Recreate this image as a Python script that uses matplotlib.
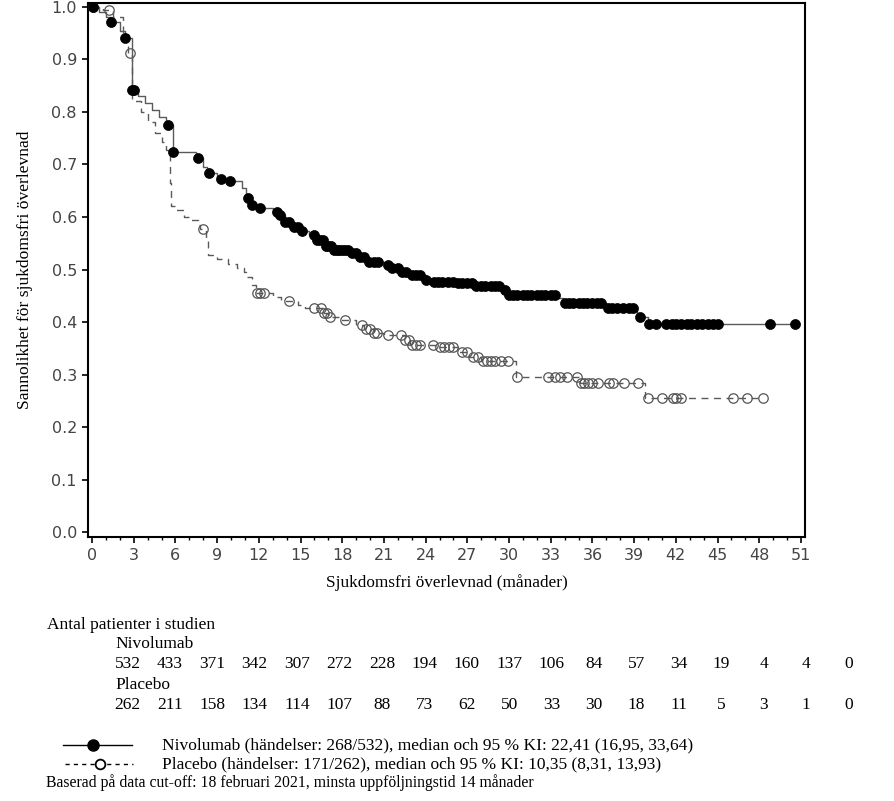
import numpy as np
import matplotlib
matplotlib.use("Agg")
import matplotlib.pyplot as plt
from matplotlib.lines import Line2D

# ---------------- data ----------------
niv_step_t = [0.0, 0.5, 1.0, 1.4, 2.0, 2.4, 2.85, 3.3, 3.8, 4.3, 4.8, 5.3, 5.8, 7.5, 8.0, 8.3,
              9.0, 9.8, 10.8, 11.1, 11.4, 12.0, 13.0, 13.5, 13.9, 14.5, 15.0, 15.6, 16.2, 16.8,
              17.3, 18.5, 19.3, 19.8, 21.0, 21.6, 22.2, 23.0, 24.0, 24.6, 26.3, 27.5, 29.4,
              29.8, 33.6, 33.9, 37.0, 39.2, 40.0]
niv_step_s = [1.0, 0.99, 0.98, 0.972, 0.955, 0.94, 0.842, 0.83, 0.817, 0.803, 0.79, 0.776,
              0.724, 0.712, 0.695, 0.683, 0.673, 0.668, 0.655, 0.636, 0.623, 0.617, 0.61, 0.604,
              0.59, 0.58, 0.573, 0.565, 0.556, 0.545, 0.537, 0.532, 0.524, 0.514, 0.509, 0.502,
              0.495, 0.49, 0.48, 0.476, 0.474, 0.468, 0.461, 0.451, 0.446, 0.436, 0.427, 0.41,
              0.396]
niv_censor_t = [0.05, 1.4, 2.4, 2.9, 3.0, 5.5, 5.85, 7.6, 8.4, 9.3, 9.9, 11.2, 11.5, 12.1,
                13.3, 13.5, 13.9, 14.2, 14.5, 14.8, 15.1, 16.0, 16.2, 16.4, 16.6, 16.8, 17.0,
                17.2, 17.4, 17.6, 17.8, 18.0, 18.2, 18.4, 18.7, 19.0, 19.3, 19.6, 19.9, 20.3,
                20.6, 21.3, 21.6, 22.0, 22.3, 22.6, 23.0, 23.3, 23.6, 24.0, 24.6, 24.9, 25.2,
                25.6, 26.0, 26.3, 26.6, 27.0, 27.3, 27.6, 28.0, 28.3, 28.7, 29.0, 29.3, 29.7,
                30.0, 30.3, 30.6, 31.0, 31.3, 31.6, 32.0, 32.3, 32.6, 33.0, 33.3, 34.0, 34.3,
                34.6, 35.0, 35.3, 35.6, 36.0, 36.3, 36.6, 37.1, 37.4, 37.8, 38.2, 38.6, 38.9,
                39.4, 40.1, 40.6, 41.3, 41.7, 42.0, 42.4, 42.8, 43.1, 43.5, 43.9, 44.3, 44.7,
                45.0, 48.8, 50.6]

pla_step_t = [0.0, 0.8, 1.5, 2.2, 2.6, 2.85, 3.5, 4.0, 4.5, 5.0, 5.3, 5.6, 5.7, 6.0, 6.6,
              7.0, 7.6, 7.8, 8.2, 8.35, 9.0, 9.8, 10.4, 10.9, 11.1, 11.5, 11.8, 13.0, 13.6,
              14.8, 15.3, 16.7, 17.0, 17.8, 19.0, 19.6, 20.3, 21.0, 22.5, 22.9, 24.7, 26.3,
              27.1, 28.0, 30.5, 35.1, 39.8]
pla_step_s = [1.0, 0.995, 0.98, 0.95, 0.913, 0.82, 0.80, 0.78, 0.76, 0.742, 0.728, 0.665,
              0.62, 0.613, 0.6, 0.594, 0.585, 0.577, 0.56, 0.528, 0.52, 0.51, 0.502, 0.495,
              0.486, 0.47, 0.455, 0.448, 0.44, 0.432, 0.427, 0.418, 0.41, 0.404, 0.395, 0.387,
              0.38, 0.375, 0.366, 0.357, 0.352, 0.343, 0.333, 0.325, 0.295, 0.284, 0.256]
pla_censor_t = [0.1, 1.2, 2.7, 7.95, 11.9, 12.1, 12.4, 14.2, 16.0, 16.5, 16.7, 16.9, 17.1,
                18.2, 19.4, 19.7, 20.0, 20.3, 20.5, 21.3, 22.2, 22.5, 22.8, 23.0, 23.3, 23.6,
                24.5, 25.0, 25.3, 25.7, 26.0, 26.6, 27.0, 27.4, 27.8, 28.1, 28.4, 28.7, 29.0,
                29.4, 29.9, 30.6, 32.8, 33.3, 33.7, 34.2, 34.9, 35.2, 35.4, 35.7, 36.0, 36.4,
                37.2, 37.5, 38.3, 39.3, 40.0, 41.0, 41.8, 42.0, 42.4, 46.1, 47.1, 48.3]

x_ticks = [0, 3, 6, 9, 12, 15, 18, 21, 24, 27, 30, 33, 36, 39, 42, 45, 48, 51]
y_ticks = [0.0, 0.1, 0.2, 0.3, 0.4, 0.5, 0.6, 0.7, 0.8, 0.9, 1.0]

niv_risk = [532, 433, 371, 342, 307, 272, 228, 194, 160, 137, 106, 84, 57, 34, 19, 4, 4, 0]
pla_risk = [262, 211, 158, 134, 114, 107, 88, 73, 62, 50, 33, 30, 18, 11, 5, 3, 1, 0]

niv_legend = "Nivolumab (händelser: 268/532), median och 95 % KI: 22,41 (16,95, 33,64)"
pla_legend = "Placebo (händelser: 171/262), median och 95 % KI: 10,35 (8,31, 13,93)"
footer = "Baserad på data cut-off: 18 februari 2021, minsta uppföljningstid 14 månader"

# ---------------- figure ----------------
W, H = 894, 801
fig = plt.figure(figsize=(W / 100, H / 100), dpi=100)
SERIF = ["Liberation Serif", "DejaVu Serif"]

def fx(px):
    return px / W

def fy(py):
    return 1 - py / H

ax = fig.add_axes([fx(88), fy(537), fx(805) - fx(88), fy(3) - fy(537)])


def km_line(step_t, step_s, censor_t):
    end = max(censor_t)
    t = list(step_t) + [end]
    s = list(step_s) + [step_s[-1]]
    st = np.asarray(step_t)
    ss = np.asarray(step_s)
    idx = np.searchsorted(st, np.asarray(censor_t), side="right") - 1
    return t, s, ss[idx]


line_col = "#5a5a5a"
t, s, cy = km_line(pla_step_t, pla_step_s, pla_censor_t)
ax.step(t, s, where="post", color=line_col, lw=1.0, linestyle=(0, (5, 4)), zorder=2)
ax.plot(pla_censor_t, cy, linestyle="none", marker="o", markersize=6.8,
        markerfacecolor="none", markeredgecolor="#555555", markeredgewidth=0.9, zorder=3)

t, s, cy = km_line(niv_step_t, niv_step_s, niv_censor_t)
ax.step(t, s, where="post", color=line_col, lw=1.0, zorder=4)
ax.plot(niv_censor_t, cy, linestyle="none", marker="o", markersize=7.2,
        markerfacecolor="black", markeredgecolor="black", markeredgewidth=0.5, zorder=5)

ax.set_xlim(-0.29, 51.29)
ax.set_ylim(-0.0095, 1.0076)
ax.set_xticks(x_ticks)
ax.set_xticks(np.arange(0, 52, 1), minor=True)
ax.set_yticks(y_ticks)
ax.set_yticklabels([f"{v:.1f}" for v in y_ticks])
ax.tick_params(axis="both", which="major", length=4, width=1.2, labelsize=11.5,
               labelcolor="#444444", pad=4)
ax.tick_params(axis="x", which="minor", length=2, width=1.0)
for lab in ax.get_xticklabels() + ax.get_yticklabels():
    lab.set_fontfamily("DejaVu Sans")
for sp in ax.spines.values():
    sp.set_linewidth(1.5)

ax.set_xlabel("Sjukdomsfri överlevnad (månader)", family=SERIF, fontsize=12.4, labelpad=8)
ax.set_ylabel("Sannolikhet för sjukdomsfri överlevnad", family=SERIF, fontsize=12.6,
              labelpad=13)

# ---------------- number at risk table ----------------
fs = 12.5
fig.text(fx(47), fy(625), "Antal patienter i studien", family=SERIF, fontsize=fs,
         va="center", ha="left")
fig.text(fx(115), fy(644), "Nivolumab", family=SERIF, fontsize=fs, va="center", ha="left")
fig.text(fx(115), fy(685), "Placebo", family=SERIF, fontsize=fs, va="center", ha="left")
for i, (a, b) in enumerate(zip(niv_risk, pla_risk)):
    xpos = fx(127.5 + i * 42.4)
    fig.text(xpos, fy(664), str(a), family=SERIF, fontsize=fs, va="center", ha="center")
    fig.text(xpos, fy(705), str(b), family=SERIF, fontsize=fs, va="center", ha="center")

# ---------------- legend ----------------
fig.add_artist(Line2D([fx(63), fx(132)], [fy(745), fy(745)], color="black", lw=1.0,
                      transform=fig.transFigure))
fig.add_artist(Line2D([fx(93)], [fy(745)], marker="o", markersize=8.0, color="black",
                      linestyle="none", transform=fig.transFigure))
fig.add_artist(Line2D([fx(65), fx(133)], [fy(764), fy(764)], color="black", lw=1.0,
                      linestyle=(0, (3, 3)), transform=fig.transFigure))
fig.add_artist(Line2D([fx(100)], [fy(764)], marker="o", markersize=7.0,
                      markerfacecolor="white", markeredgecolor="black", markeredgewidth=1.3,
                      linestyle="none", transform=fig.transFigure))
fig.text(fx(162), fy(745), niv_legend, family=SERIF, fontsize=fs, va="center", ha="left")
fig.text(fx(162), fy(764), pla_legend, family=SERIF, fontsize=fs, va="center", ha="left")
fig.text(fx(46), fy(783), footer, family=SERIF, fontsize=11.3, va="center", ha="left")

fig.savefig("out.png", dpi=100)
